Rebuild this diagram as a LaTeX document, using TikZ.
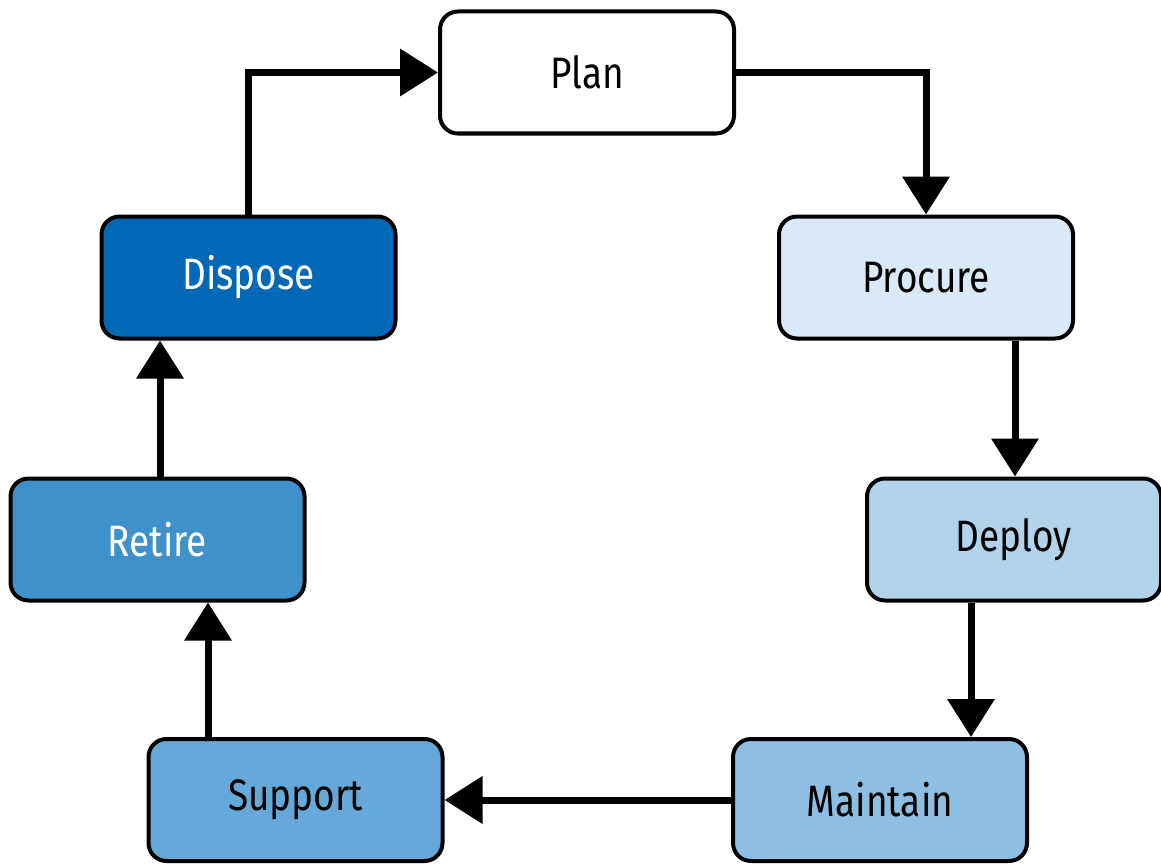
\documentclass[tikz,border=0pt]{standalone}
\usepackage{fontspec}
\setmainfont[FakeStretch=0.84]{Fira Sans}
\usetikzlibrary{arrows.meta}
\definecolor{cProcure}{HTML}{DAE9F5}
\definecolor{cDeploy}{HTML}{B2D3EC}
\definecolor{cMaintain}{HTML}{8EBFE3}
\definecolor{cSupport}{HTML}{66A9D8}
\definecolor{cRetire}{HTML}{3F91CC}
\definecolor{cDispose}{HTML}{0068B4}
\tikzset{
  stage/.style={draw=black, line width=4pt, rounded corners=18pt,
    minimum width=294pt, minimum height=122pt, inner sep=0pt,
    font=\fontsize{44}{48}\selectfont, text=black},
  flow/.style={draw=black, line width=7pt,
    -{Triangle[width=46pt,length=38pt]}}
}
\begin{document}
\begin{tikzpicture}[x=1pt,y=1pt]
  \useasboundingbox[fill=white] (0,0) rectangle (1161,-864);
  % lifecycle stages
  \node[stage, fill=white]     (plan)     at (587,-72.5)  {Plan};
  \node[stage, fill=cProcure]  (procure)  at (926,-277.5) {Procure};
  \node[stage, fill=cDeploy]   (deploy)   at (1014,-539.5){Deploy};
  \node[stage, fill=cMaintain] (maintain) at (880,-800)   {Maintain};
  \node[stage, fill=cSupport]  (support)  at (295.5,-800) {Support};
  \node[stage, fill=cRetire, text=white]  (retire)  at (157.5,-539.5) {Retire};
  \node[stage, fill=cDispose, text=white] (dispose) at (248.5,-277.5) {Dispose};
  % transitions
  \draw[flow] (dispose.north) |- (plan.west);
  \draw[flow] (plan.east) -| (procure.north);
  \draw[flow] (procure.south -| 1015,0) -- (deploy.north -| 1015,0);
  \draw[flow] (deploy.south -| 971,0) -- (maintain.north -| 971,0);
  \draw[flow] (maintain.west) -- (support.east);
  \draw[flow] (support.north -| 208,0) -- (retire.south -| 208,0);
  \draw[flow] (retire.north -| 160,0) -- (dispose.south -| 160,0);
\end{tikzpicture}
\end{document}
